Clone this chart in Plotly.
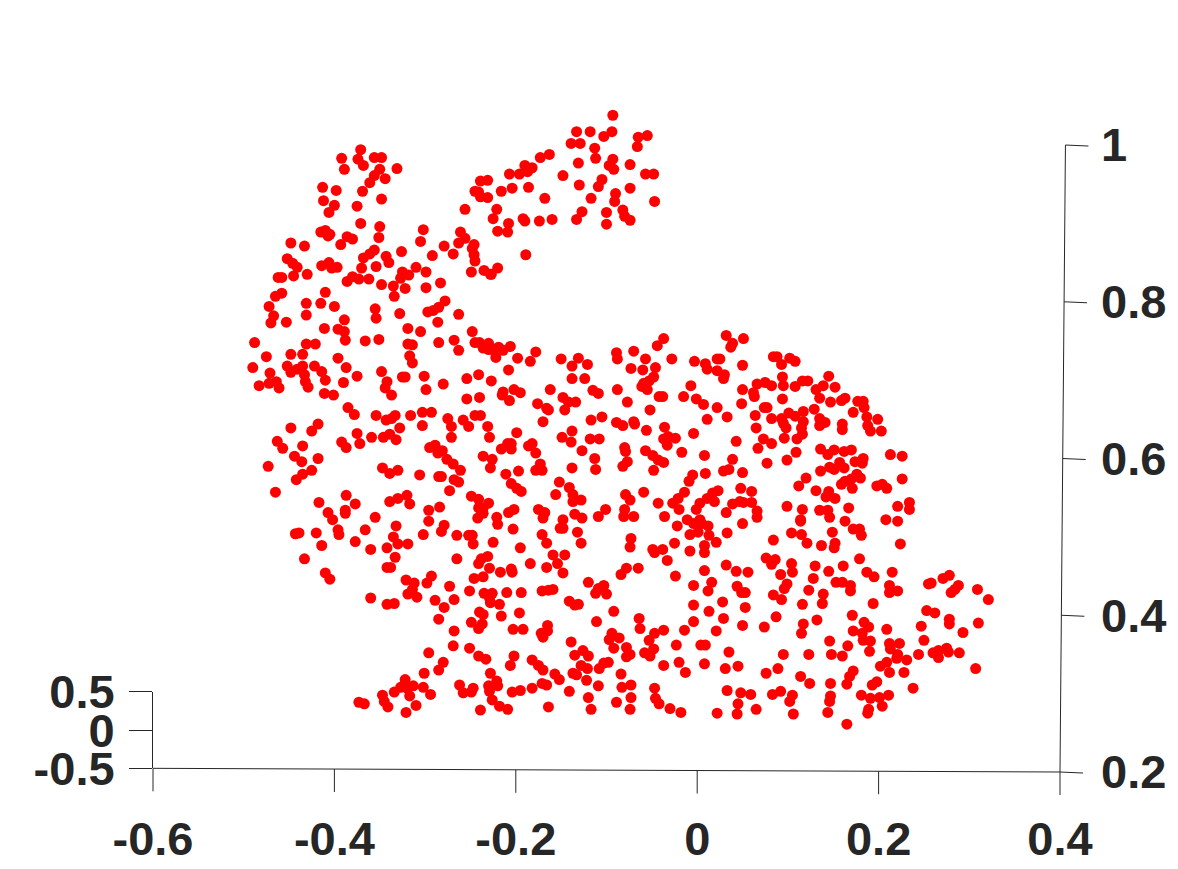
import plotly.graph_objects as go

x_ticks = [-0.6, -0.4, -0.2, 0, 0.2, 0.4]
x_tick_labels = ["-0.6", "-0.4", "-0.2", "0", "0.2", "0.4"]
z_ticks = [0.2, 0.4, 0.6, 0.8, 1]
z_tick_labels = ["0.2", "0.4", "0.6", "0.8", "1"]
y_ticks = [-0.5, 0, 0.5]
y_tick_labels = ["-0.5", "0", "0.5"]

# (x, z) values, grouped by part of the cloud
head_ears = [(-.371,.994),(-.392,.983),(-.389,.969),(-.374,.982),(-.368,.974),(-.356,.984),(-.348,.984),(-.331,.970),(-.350,.969),(-.356,.961),(-.361,.952),(-.344,.957),(-.413,.946),(-.398,.942),(-.369,.941),(-.412,.929),(-.400,.923),(-.406,.914),(-.348,.931),(-.375,.922),(-.371,.900),(-.350,.896),(-.351,.882),(-.415,.889),(-.410,.891),(-.405,.886),(-.407,.884),(-.386,.883),(-.380,.880),(-.393,.873),(-.448,.875),(-.433,.871),(-.452,.855),(-.446,.849),(-.441,.844),(-.445,.833),(-.430,.835),(-.462,.831),(-.458,.831),(-.414,.846),(-.406,.850),(-.403,.843),(-.397,.844),(-.356,.866),(-.361,.861),(-.368,.856),(-.370,.843),(-.354,.845),(-.343,.858),(-.340,.850),(-.326,.864),(-.302,.892),(-.305,.877),(-.261,.889),(-.256,.881),(-.263,.875),(-.246,.873),(-.248,.868),(-.246,.860),(-.245,.852),(-.279,.871),(-.269,.861),(-.292,.859),(-.310,.844),(-.299,.838),(-.249,.838),(-.235,.840),(-.228,.835),(-.325,.838),(-.318,.834),(-.327,.830),(-.335,.820),(-.322,.817),(-.334,.807),(-.348,.822),(-.362,.829),(-.373,.829),(-.380,.832),(-.386,.826),(-.299,.818),(-.283,.824),(-.410,.812),(-.458,.811),(-.465,.807),(-.472,.794),(-.431,.798),(-.415,.798),(-.400,.794),(-.278,.801),(-.285,.793),(-.291,.789),(-.297,.787),(-.355,.791),(-.328,.785),(-.263,.784),(-.431,.783),(-.467,.782),(-.239,.954),(-.231,.955),(-.245,.941),(-.239,.934),(-.231,.933),(-.256,.918),(-.241,.940)]

far_ear = [(-.093,1.038),(-.133,1.017),(-.118,1.017),(-.094,1.017),(-.103,1.011),(-.065,1.010),(-.055,1.012),(-.066,.998),(-.139,1.002),(-.129,1.002),(-.113,.996),(-.112,.983),(-.093,.982),(-.097,.974),(-.092,.969),(-.131,.977),(-.074,.975),(-.163,.988),(-.173,.984),(-.190,.974),(-.182,.971),(-.187,.966),(-.196,.963),(-.207,.963),(-.148,.961),(-.057,.963),(-.048,.963),(-.105,.956),(-.109,.947),(-.130,.949),(-.074,.945),(-.186,.946),(-.204,.945),(-.216,.941),(-.168,.932),(-.117,.932),(-.090,.938),(-.091,.928),(-.047,.928),(-.127,.915),(-.133,.905),(-.100,.914),(-.082,.917),(-.080,.909),(-.074,.904),(-.100,.899),(-.221,.918),(-.225,.906),(-.208,.900),(-.192,.906),(-.190,.903),(-.174,.903),(-.160,.905),(-.220,.890),(-.209,.889),(-.189,.860),(-.220,.843),(-.227,.835)]

face = [(-.470,.773),(-.453,.774),(-.354,.779),(-.286,.774),(-.389,.777),(-.411,.766),(-.396,.765),(-.389,.762),(-.388,.751),(-.366,.750),(-.351,.752),(-.319,.766),(-.305,.762),(-.248,.762),(-.488,.748),(-.431,.746),(-.421,.746),(-.448,.733),(-.435,.733),(-.475,.730),(-.396,.728),(-.319,.746),(-.314,.745),(-.285,.748),(-.268,.751),(-.263,.738),(-.245,.748),(-.240,.748),(-.230,.747),(-.236,.741),(-.230,.739),(-.317,.731),(-.314,.722),(-.490,.716),(-.452,.718),(-.435,.718),(-.441,.714),(-.422,.718),(-.387,.716),(-.448,.710),(-.471,.709),(-.414,.711),(-.433,.707),(-.375,.705),(-.348,.711),(-.410,.700),(-.432,.698),(-.390,.697),(-.464,.698),(-.472,.696),(-.483,.693),(-.461,.690),(-.429,.691),(-.411,.683),(-.401,.681),(-.342,.698),(-.344,.690),(-.337,.681),(-.325,.704),(-.322,.704),(-.301,.705),(-.299,.688),(-.280,.695),(-.254,.702),(-.241,.707),(-.227,.699),(-.254,.676),(-.240,.678),(-.385,.665),(-.378,.656),(-.354,.655),(-.343,.649),(-.337,.651),(-.333,.655),(-.328,.639),(-.316,.655),(-.303,.659),(-.293,.659),(-.303,.642),(-.275,.651),(-.271,.641),(-.271,.627),(-.258,.649),(-.252,.641),(-.245,.655),(-.239,.655),(-.231,.641),(-.229,.627),(-.418,.644),(-.425,.635),(-.448,.639),(-.463,.622),(-.457,.613),(-.435,.616),(-.444,.603),(-.436,.596),(-.418,.600),(-.473,.590),(-.425,.585),(-.435,.580),(-.442,.573),(-.465,.557),(-.375,.632),(-.372,.619),(-.392,.621),(-.387,.614),(-.359,.627),(-.346,.627),(-.339,.631),(-.332,.624),(-.295,.614),(-.289,.617),(-.286,.607),(-.281,.610),(-.276,.599),(-.269,.593),(-.261,.585),(-.236,.603),(-.226,.599),(-.228,.588),(-.347,.588),(-.339,.581),(-.330,.585),(-.306,.579),(-.285,.577),(-.282,.577),(-.268,.573),(-.263,.570),(-.273,.559),(-.249,.552),(-.241,.548),(-.230,.543),(-.236,.537),(-.241,.537),(-.236,.530),(-.242,.524),(-.387,.553),(-.417,.544),(-.377,.542),(-.407,.531),(-.388,.534),(-.388,.530),(-.402,.522),(-.355,.525),(-.339,.545),(-.330,.549),(-.320,.553),(-.317,.542),(-.296,.534),(-.284,.538),(-.296,.520)]

back_middle = [(.032,.757),(-.037,.753),(-.044,.744),(.039,.747),(.037,.742),(-.219,.742),(-.206,.743),(-.222,.729),(-.225,.739),(-.214,.738),(-.198,.728),(-.178,.736),(-.184,.724),(-.208,.713),(-.150,.727),(-.131,.728),(-.138,.718),(-.121,.720),(-.138,.702),(-.124,.702),(-.089,.735),(-.088,.727),(-.070,.737),(-.057,.727),(-.028,.727),(-.073,.715),(-.060,.713),(-.046,.716),(-.003,.724),(.009,.721),(.011,.714),(.022,.727),(.025,.727),(.022,.712),(.030,.707),(.029,.702),(.050,.719),(.051,.753),(-.048,.704),(-.059,.696),(-.053,.699),(-.061,.692),(-.055,.688),(-.088,.688),(-.115,.687),(-.109,.683),(-.162,.688),(-.148,.678),(-.142,.672),(-.134,.672),(-.176,.670),(-.166,.664),(-.164,.662),(-.146,.662),(-.214,.685),(-.202,.688),(-.195,.684),(-.207,.674),(-.215,.681),(-.007,.693),(-.015,.679),(-.001,.676),(.007,.669),(.022,.665),(-.042,.679),(-.038,.679),(-.077,.672),(-.052,.662),(.050,.688),(.049,.670),(.011,.650),(.033,.653),(-.170,.647),(-.117,.649),(-.105,.653),(-.089,.646),(-.082,.642),(-.070,.647),(-.069,.644),(-.056,.636),(-.036,.640),(-.004,.632),(-.138,.635),(-.149,.627),(-.139,.621),(-.118,.625),(-.108,.625),(-.199,.633),(-.032,.628),(-.024,.626),(-.037,.625),(-.033,.617),(.043,.622),(-.182,.619),(-.186,.616),(-.178,.607),(-.205,.619),(-.209,.619),(-.216,.612),(-.205,.612),(-.127,.610),(-.080,.614),(-.079,.609),(-.057,.610),(-.049,.604),(-.017,.608),(.008,.604),(.039,.599),(-.113,.600),(-.077,.596),(-.082,.590),(-.043,.598),(-.037,.595),(-.112,.586),(-.173,.593),(-.178,.585),(-.171,.585),(-.138,.588),(-.048,.585),(.009,.581),(.029,.584),(.035,.586),(.050,.582),(-.197,.584),(-.211,.580),(-.005,.579),(-.009,.571),(-.152,.570),(-.205,.568),(-.199,.562),(-.194,.558),(-.141,.563),(-.156,.554),(-.137,.554),(-.137,.545),(-.128,.547),(-.079,.554),(-.074,.547),(-.059,.557),(-.043,.543),(-.014,.557),(-.021,.549),(-.027,.543),(-.020,.535),(.017,.556),(.023,.559),(.011,.549),(.019,.545),(.003,.543),(-.001,.535),(.048,.562),(.047,.545),(.039,.542),(.032,.531),(-.101,.535),(-.109,.526),(-.080,.535),(-.081,.526),(-.070,.526),(-.175,.535),(-.168,.531),(-.202,.535),(-.208,.531),(-.221,.525),(-.135,.529),(-.127,.524),(-.148,.522),(-.170,.524),(-.036,.526),(-.011,.522),(.003,.522)]

back_right = [(.084,.730),(.088,.730),(.093,.720),(.102,.728),(.108,.724),(.094,.704),(.095,.693),(.066,.695),(.075,.697),(.082,.693),(.062,.684),(.063,.679),(.108,.692),(.116,.699),(.122,.699),(.145,.705),(.139,.693),(.131,.688),(.152,.691),(.135,.677),(.094,.676),(.147,.672),(.159,.674),(.163,.677),(.177,.673),(.183,.673),(.184,.665),(.172,.659),(.074,.665),(.077,.665),(.064,.655),(.129,.663),(.117,.660),(.082,.651),(.093,.651),(.101,.658),(.108,.654),(.117,.647),(.095,.645),(.065,.639),(.135,.651),(.141,.646),(.135,.642),(.115,.639),(.098,.639),(.160,.644),(.160,.637),(.187,.653),(.199,.650),(.188,.642),(.191,.635),(.203,.635),(.116,.631),(.110,.625),(.096,.626),(.073,.625),(.082,.619),(.067,.613),(.109,.608),(.099,.598),(.077,.594),(.136,.612),(.144,.605),(.151,.611),(.162,.609),(.170,.611),(.213,.605),(.226,.603),(.174,.596),(.183,.600),(.182,.594),(.157,.595),(.146,.589),(.151,.586),(.162,.588),(.136,.584),(.120,.575),(.112,.565),(.131,.559),(.145,.558),(.142,.551),(.152,.549),(.176,.580),(.180,.575),(.170,.574),(.163,.571),(.159,.567),(.171,.562),(.198,.565),(.204,.567),(.209,.562),(.226,.574),(.060,.558),(.051,.544),(.060,.544),(.066,.533),(.066,.525),(.099,.539),(.116,.535),(.135,.534),(.144,.534),(.146,.525),(.167,.537),(.221,.539),(.234,.544),(.234,.535),(.208,.522),(.221,.520),(.163,.520),(.114,.522)]

front_feet = [(-.443,.504),(-.439,.505),(-.420,.505),(-.396,.509),(-.395,.503),(-.414,.489),(-.433,.472),(-.377,.494),(-.366,.509),(-.360,.484),(-.332,.514),(-.335,.500),(-.330,.491),(-.319,.491),(-.342,.486),(-.333,.474),(-.342,.461),(-.338,.461),(-.410,.454),(-.405,.446),(-.360,.422),(-.342,.414),(-.334,.415),(-.321,.445),(-.312,.441),(-.298,.441),(-.293,.450),(-.314,.433),(-.319,.427),(-.309,.423),(-.273,.437),(-.289,.419),(-.279,.410),(-.268,.420),(-.285,.395),(-.302,.503),(-.282,.507),(-.279,.515),(-.265,.502),(-.252,.502),(-.248,.502),(-.247,.491),(-.265,.472),(-.225,.493),(-.203,.510),(-.220,.516),(-.195,.486),(-.184,.466),(-.171,.503),(-.231,.475),(-.238,.472),(-.241,.466),(-.229,.460),(-.217,.455),(-.205,.459),(-.204,.455),(-.246,.447),(-.236,.449),(-.251,.431),(-.235,.428),(-.226,.428),(-.229,.422),(-.228,.416),(-.218,.414),(-.210,.429),(-.194,.429),(-.171,.431),(-.240,.404),(-.236,.401),(-.216,.399),(-.196,.403),(-.249,.391),(-.237,.389),(-.241,.383),(-.203,.382),(-.192,.382),(-.172,.377),(-.268,.380),(-.269,.361),(-.251,.358),(-.241,.348),(-.233,.344),(-.296,.352),(-.280,.340),(-.285,.330),(-.301,.326),(-.202,.348),(-.206,.336),(-.182,.343),(-.175,.336),(-.228,.326),(-.322,.318),(-.313,.310),(-.327,.308),(-.320,.307),(-.334,.302),(-.302,.308),(-.294,.299),(-.317,.297),(-.347,.298),(-.345,.290),(-.341,.283),(-.310,.285),(-.321,.276),(-.373,.289),(-.367,.287),(-.262,.311),(-.247,.307),(-.258,.301),(-.249,.302),(-.230,.310),(-.221,.316),(-.220,.310),(-.229,.303),(-.204,.302),(-.195,.304),(-.182,.307),(-.226,.292),(-.218,.284),(-.209,.280),(-.239,.279),(-.171,.313)]

belly = [(-.148,.511),(-.151,.511),(-.132,.506),(-.128,.492),(-.166,.492),(-.159,.477),(-.146,.477),(-.154,.466),(-.166,.461),(-.148,.454),(-.164,.432),(-.159,.433),(-.073,.498),(-.074,.487),(-.049,.484),(-.047,.480),(-.038,.484),(-.025,.492),(-.033,.470),(-.022,.514),(-.008,.503),(.001,.506),(.013,.502),(.012,.514),(-.004,.517),(.005,.517),(.021,.493),(.033,.505),(.050,.517),(.008,.489),(.008,.480),(-.008,.482),(.084,.496),(.104,.505),(-.065,.460),(-.078,.460),(-.084,.452),(-.120,.442),(-.103,.438),(-.109,.434),(-.112,.428),(-.100,.427),(-.024,.450),(-.004,.438),(.008,.457),(.016,.442),(.012,.431),(.032,.464),(.043,.456),(.056,.455),(.044,.437),(.049,.429),(.053,.429),(.076,.473),(.086,.471),(.082,.465),(.092,.452),(.104,.466),(.105,.455),(.099,.440),(.096,.434),(.084,.426),(.093,.420),(-.141,.418),(-.131,.414),(-.135,.413),(-.092,.405),(-.111,.392),(-.064,.396),(-.063,.383),(-.004,.413),(.028,.417),(.013,.405),(.053,.410),(.029,.396),(-.004,.392),(-.014,.381),(.021,.380),(.050,.387),(.074,.385),(.087,.398),(-.165,.387),(-.165,.380),(-.170,.372),(-.139,.366),(-.094,.377),(-.086,.371),(-.097,.369),(-.092,.358),(-.047,.377),(-.037,.381),(-.053,.368),(-.048,.357),(-.078,.359),(-.074,.350),(-.078,.347),(-.058,.352),(-.052,.348),(-.023,.362),(.004,.362),(.009,.362),(.035,.353),(.095,.350),(-.126,.355),(-.135,.349),(-.120,.348),(-.128,.336),(-.121,.332),(-.137,.326),(-.133,.324),(-.108,.332),(-.103,.339),(-.098,.340),(-.037,.336),(-.020,.340),(-.013,.327),(.008,.338),(.031,.332),(.045,.335),(.076,.326),(.089,.332),(-.084,.325),(-.170,.330),(-.157,.325),(-.152,.318),(-.166,.311),(-.122,.317),(-.109,.310),(-.141,.303),(-.083,.308),(-.073,.311),(-.047,.307),(.033,.304),(.048,.301),(.059,.299),(.083,.299),(.092,.303),(.105,.298),(.102,.290),(-.120,.295),(-.073,.295),(-.046,.294),(-.042,.287),(-.089,.289),(.045,.287),(-.164,.283),(-.117,.280),(-.074,.280),(-.030,.281),(-.018,.276),(.022,.275),(.044,.274),(.065,.280),(.106,.274)]

haunch_tail = [(.114,.520),(.115,.503),(.121,.492),(.137,.489),(.149,.506),(.152,.492),(.151,.486),(.172,.510),(.179,.510),(.181,.502),(.224,.491),(.179,.472),(.130,.463),(.145,.456),(.161,.463),(.187,.455),(.195,.449),(.215,.455),(.128,.447),(.153,.442),(.160,.442),(.169,.438),(.169,.431),(.212,.438),(.212,.429),(.221,.431),(.123,.432),(.139,.427),(.138,.415),(.116,.414),(.194,.415),(.171,.400),(.117,.389),(.115,.377),(.132,.394),(.184,.391),(.189,.385),(.172,.380),(.182,.377),(.183,.368),(.191,.367),(.209,.382),(.146,.367),(.166,.361),(.190,.354),(.148,.350),(.160,.348),(.123,.350),(.212,.364),(.223,.364),(.213,.357),(.221,.350),(.220,.345),(.231,.343),(.244,.350),(.209,.340),(.202,.335),(.212,.327),(.228,.327),(.172,.329),(.168,.322),(.114,.322),(.124,.313),(.147,.313),(.165,.312),(.193,.311),(.198,.315),(.238,.307),(.147,.297),(.146,.290),(.181,.298),(.191,.294),(.201,.295),(.211,.298),(.204,.284),(.189,.280),(.188,.275),(.144,.276),(.165,.261),(.258,.441),(.255,.440),(.271,.447),(.278,.451),(.288,.438),(.284,.433),(.280,.429),(.309,.433),(.321,.420),(.253,.406),(.262,.403),(.278,.395),(.278,.389),(.310,.390),(.247,.386),(.293,.378),(.250,.368),(.275,.358),(.266,.355),(.277,.353),(.260,.352),(.266,.346),(.289,.352),(.307,.332)]

points = head_ears + far_ear + face + back_middle + back_right + front_feet + belly + haunch_tail
x_values = [p[0] for p in points]
z_values = [p[1] for p in points]

INK = "#262626"
FONT = dict(family="Liberation Sans, Arial, sans-serif", size=47, color=INK)
Z_MIN, Z_MAX = 0.2, 1.06

fig = go.Figure()
fig.add_trace(go.Scatter(x=x_values, y=z_values, mode="markers", cliponaxis=False,
                         marker=dict(color="#ff0000", size=11, line=dict(width=0)),
                         showlegend=False, hoverinfo="skip"))
# empty trace so that the short depth axis is drawn
fig.add_trace(go.Scatter(x=[None], y=[None], yaxis="y2", showlegend=False))

# the axes are slightly skewed in the 3-D view, so their lines and ticks are shapes
line = dict(color=INK, width=1)
TICK_Z = 23 / 784
TICK_X = 23 / 907
def x_axis_z(x):
    return 0.2 + 0.0047 * (0.4 - x)
def z_axis_x(z):
    return 0.4 + 0.0075 * (z - 0.2)
def seg(x0, z0, x1, z1):
    # paper coordinates of the plot area, so that nothing is clipped at its edge
    return dict(type="line", xref="paper", yref="paper", x0=x0 + 0.6, x1=x1 + 0.6,
                y0=(z0 - Z_MIN) / (Z_MAX - Z_MIN), y1=(z1 - Z_MIN) / (Z_MAX - Z_MIN), line=line)

shapes = [seg(-0.6, x_axis_z(-0.6), 0.4, x_axis_z(0.4)), seg(z_axis_x(0.2), 0.2, z_axis_x(1), 1)]
for t in x_ticks:
    shapes.append(seg(t, x_axis_z(t), t, x_axis_z(t) - TICK_Z))
for t in z_ticks:
    shapes.append(seg(z_axis_x(t), t, z_axis_x(t) + TICK_X, t - 0.0013))

fig.update_layout(
    width=1178, height=869, margin=dict(l=153, r=118, t=98, b=97, autoexpand=False),
    paper_bgcolor="white", plot_bgcolor="rgba(0,0,0,0)", showlegend=False, shapes=shapes,
    font=FONT,
    xaxis=dict(range=[-0.6, 0.4], tickvals=x_ticks, ticktext=x_tick_labels, showgrid=False, automargin=False,
               zeroline=False, showline=False, ticks="", ticklabelstandoff=35, tickfont=dict(FONT, weight="bold")),
    yaxis=dict(range=[Z_MIN, Z_MAX], tickvals=z_ticks, ticktext=z_tick_labels, side="right", showgrid=False, automargin=False,
               zeroline=False, showline=False, ticks="", ticklabelstandoff=40, tickfont=dict(FONT, weight="bold")),
    yaxis2=dict(range=[-0.5, 0.5], tickvals=y_ticks, ticktext=y_tick_labels, domain=[0.0052, 0.1187],
                anchor="x", side="left", showgrid=False, zeroline=False, automargin=False,
                showline=True, linecolor=INK, linewidth=1, ticks="outside", ticklen=23, tickcolor=INK,
                tickwidth=1, ticklabelstandoff=5, tickfont=dict(FONT, weight="bold")),
)

fig.write_html("out.html", config=dict(displayModeBar=False),
               post_script="document.body.style.margin='0';document.documentElement.style.overflow='hidden';")
